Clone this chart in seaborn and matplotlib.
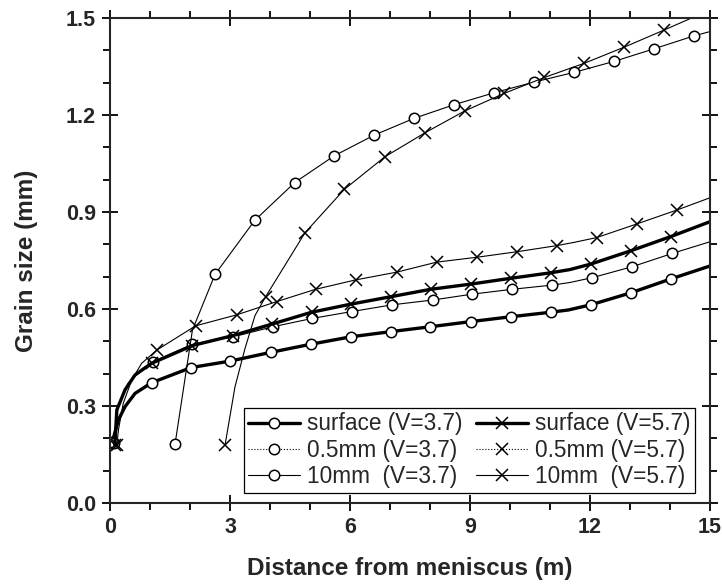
import matplotlib
matplotlib.use("Agg")
import matplotlib.pyplot as plt
from matplotlib.lines import Line2D
from matplotlib.ticker import MultipleLocator
import seaborn as sns

sns.set_style("ticks")
plt.rcParams["font.family"] = ["Liberation Sans", "DejaVu Sans"]

# distance from meniscus (m) and grain size (mm)
surf37_x = [0.06, 0.21, 0.375, 0.625, 1.04, 2.03, 3.01, 4.02, 5.02, 6.02, 7.02, 8.00, 9.02, 10.02, 11.02, 11.46, 12.02, 13.02, 14.02, 15.0]
surf37_y = [0.190, 0.257, 0.298, 0.339, 0.372, 0.419, 0.439, 0.466, 0.491, 0.514, 0.530, 0.545, 0.561, 0.576, 0.590, 0.597, 0.613, 0.650, 0.693, 0.733]
surf37_marks = [0, 4, 5, 6, 7, 8, 9, 10, 11, 12, 13, 14, 16, 17, 18]

half37_x = [0.10, 0.20, 0.45, 0.80, 1.07, 2.06, 3.08, 4.07, 5.06, 6.04, 7.06, 8.08, 9.06, 10.06, 11.06, 11.5, 12.06, 13.06, 14.06, 15.0]
half37_y = [0.185, 0.300, 0.370, 0.415, 0.437, 0.491, 0.514, 0.545, 0.571, 0.592, 0.613, 0.628, 0.646, 0.661, 0.674, 0.682, 0.697, 0.731, 0.772, 0.808]
half37_marks = [0, 4, 5, 6, 7, 8, 9, 10, 11, 12, 13, 14, 16, 17, 18]

deep37_x = [1.625, 2.06, 2.625, 3.617, 4.617, 5.608, 6.608, 7.608, 8.608, 9.608, 10.608, 11.608, 12.608, 13.608, 14.608, 15.0]
deep37_y = [0.182, 0.535, 0.707, 0.874, 0.991, 1.074, 1.138, 1.190, 1.232, 1.269, 1.302, 1.332, 1.366, 1.405, 1.445, 1.458]
deep37_marks = [0, 2, 3, 4, 5, 6, 7, 8, 9, 10, 11, 12, 13, 14]

surf57_x = [0.12, 0.17, 0.375, 0.625, 1.04, 2.06, 3.08, 4.04, 5.04, 6.02, 7.02, 8.02, 9.02, 10.02, 11.02, 11.5, 12.02, 13.02, 14.02, 15.0]
surf57_y = [0.180, 0.288, 0.350, 0.396, 0.432, 0.487, 0.518, 0.553, 0.590, 0.615, 0.638, 0.661, 0.677, 0.695, 0.712, 0.722, 0.739, 0.780, 0.824, 0.870]
surf57_marks = [0, 4, 5, 6, 7, 8, 9, 10, 11, 12, 13, 14, 16, 17, 18]

half57_x = [0.17, 0.21, 0.33, 0.54, 0.79, 1.17, 2.14, 3.17, 4.17, 5.14, 6.14, 7.17, 8.17, 9.17, 10.17, 11.17, 11.6, 12.17, 13.17, 14.17, 15.0]
half57_y = [0.179, 0.226, 0.308, 0.380, 0.432, 0.473, 0.548, 0.582, 0.623, 0.661, 0.690, 0.714, 0.745, 0.760, 0.777, 0.796, 0.806, 0.821, 0.863, 0.906, 0.944]
half57_marks = [0, 5, 6, 7, 8, 9, 10, 11, 12, 13, 14, 15, 17, 18, 19]

deep57_x = [2.875, 3.125, 3.375, 3.625, 3.89, 4.875, 5.858, 6.875, 7.875, 8.875, 9.858, 10.858, 11.858, 12.858, 13.858, 15.0]
deep57_y = [0.179, 0.360, 0.478, 0.580, 0.638, 0.836, 0.970, 1.071, 1.145, 1.213, 1.267, 1.316, 1.360, 1.410, 1.463, 1.525]
deep57_marks = [0, 4, 5, 6, 7, 8, 9, 10, 11, 12, 13, 14]

legend_labels = ["surface (V=3.7)", "0.5mm (V=3.7)", "10mm  (V=3.7)",
                 "surface (V=5.7)", "0.5mm (V=5.7)", "10mm  (V=5.7)"]

fig = plt.figure(figsize=(7.22, 5.84), dpi=100)
ax = fig.add_axes([0.1524, 0.1387, 0.831, 0.8305])

thick, thin = 2.4, 0.8
circle = dict(marker="o", ms=7.5, mfc="white", mec="black", mew=1.1)
cross = dict(marker="x", ms=9, mec="black", mew=1.1)

series = [
    (surf37_x, surf37_y, surf37_marks, thick, circle),
    (half37_x, half37_y, half37_marks, thin, circle),
    (deep37_x, deep37_y, deep37_marks, thin, circle),
    (surf57_x, surf57_y, surf57_marks, thick, cross),
    (half57_x, half57_y, half57_marks, thin, cross),
    (deep57_x, deep57_y, deep57_marks, thin, cross),
]
for xs, ys, marks, lw, mk in series:
    sns.lineplot(x=xs, y=ys, ax=ax, color="black", lw=lw, sort=False,
                 estimator=None, markevery=marks, **mk)

ax.set_xlim(0, 15)
ax.set_ylim(0, 1.5)
ax.xaxis.set_major_locator(MultipleLocator(3))
ax.xaxis.set_minor_locator(MultipleLocator(1))
ax.yaxis.set_major_locator(MultipleLocator(0.3))
ax.yaxis.set_minor_locator(MultipleLocator(0.1))
ax.yaxis.set_major_formatter(matplotlib.ticker.FormatStrFormatter("%.1f"))

for side in ax.spines.values():
    side.set_linewidth(1.5)
    side.set_visible(True)
ax.tick_params(which="both", top=True, right=True, width=1.3, color="black")
ax.tick_params(which="major", bottom=True, left=True, direction="inout", length=12,
               labelsize=15.5, pad=4)
ax.tick_params(which="minor", direction="out", length=5)
for t in ax.get_xticklabels() + ax.get_yticklabels():
    t.set_fontweight("bold")

ax.set_xlabel("Distance from meniscus (m)", fontsize=17.5, fontweight="bold", labelpad=14)
ax.set_ylabel("Grain size (mm)", fontsize=17.5, fontweight="bold", labelpad=20)

handles = [
    Line2D([], [], color="black", lw=thick, **circle),
    Line2D([], [], color="black", lw=thin, ls=":", **circle),
    Line2D([], [], color="black", lw=thin, **circle),
    Line2D([], [], color="black", lw=thick, **cross),
    Line2D([], [], color="black", lw=thin, ls=":", **cross),
    Line2D([], [], color="black", lw=thin, **cross),
]
leg = ax.legend(handles, legend_labels, ncol=2, loc="lower right",
                bbox_to_anchor=(0.975, 0.021), fontsize=16.3, frameon=True,
                fancybox=False, edgecolor="black", framealpha=1,
                handlelength=2.3, handletextpad=0.3, columnspacing=0.6,
                labelspacing=0.15, borderpad=0.2, borderaxespad=0)
leg.get_frame().set_linewidth(0.9)

fig.savefig("out.png", dpi=100)
